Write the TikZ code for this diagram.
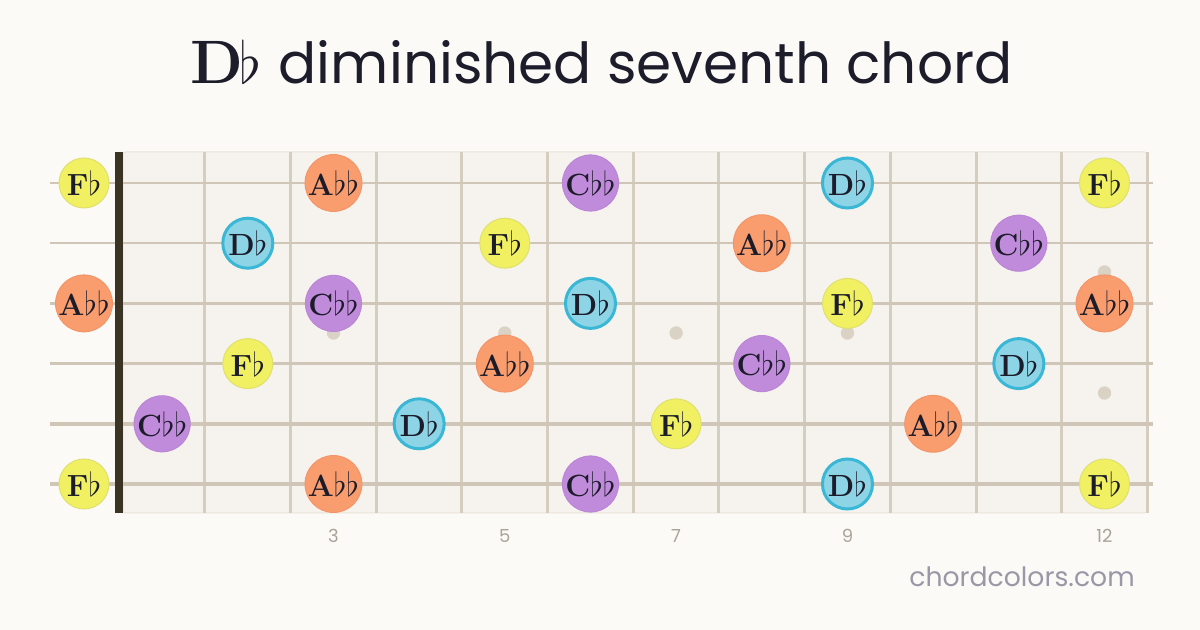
\documentclass[tikz,border=0pt]{standalone}
\usepackage{fontspec}
\newfontfamily\sansf{Poppins}
\definecolor{bg}{HTML}{FBFAF6}
\definecolor{board}{HTML}{F6F3EE}
\definecolor{boardedge}{HTML}{E9E3D9}
\definecolor{fretc}{HTML}{D5CDC0}
\definecolor{stringc}{HTML}{CFC6B8}
\definecolor{nutc}{HTML}{3B3425}
\definecolor{inlayc}{HTML}{D9D2C5}
\definecolor{yelf}{HTML}{F0F062}
\definecolor{yeld}{HTML}{E0E070}
\definecolor{oraf}{HTML}{F99D6E}
\definecolor{orad}{HTML}{F2966A}
\definecolor{purf}{HTML}{C18BDB}
\definecolor{purd}{HTML}{BB86D6}
\definecolor{bluf}{HTML}{8DD5E6}
\definecolor{blud}{HTML}{3BB7D6}
\definecolor{inkc}{HTML}{1C1C2A}
\definecolor{numc}{HTML}{A9A398}
\definecolor{sitec}{HTML}{9A98A6}
\newcommand\nfl{$\flat$}
\newcommand\tfl{\hspace{-3pt}\scalebox{1.75}{\fontsize{24.88}{26}\selectfont$\flat$}}
\newcommand\labF{F\nfl}
\newcommand\labA{A\nfl\nfl}
\newcommand\labC{C\nfl\nfl}
\newcommand\labD{D\nfl}
\tikzset{
  nt/.style={circle, minimum size=37.5pt, inner sep=0pt, text=inkc,
    font=\fontsize{23}{25}\selectfont\bfseries},
  ntF/.style={nt, fill=yelf, draw=yeld, line width=0.75pt},
  ntA/.style={nt, fill=oraf, draw=orad, line width=0.75pt},
  ntC/.style={nt, fill=purf, draw=purd, line width=0.75pt},
  ntD/.style={nt, fill=bluf, draw=blud, line width=2.25pt},
  fretline/.style={draw=fretc, line width=2.25pt},
  inlay/.style={circle, fill=inlayc, minimum size=10pt, inner sep=0pt},
  fretnum/.style={text=numc, font=\sansf\fontsize{13.5}{15}\selectfont},
}
\begin{document}
\begin{tikzpicture}[x=0.75pt,y=-0.75pt]
\useasboundingbox[fill=bg] (0,0) rectangle (1200,630);
% title
\node[anchor=base, text=inkc, inner sep=0pt] (title) at (601.5,84)
  {{\fontsize{46}{50}\selectfont\bfseries D\tfl}\hspace{13pt}{\sansf\fontsize{42.4}{48}\selectfont diminished seventh chord}};
% board
\fill[board, draw=boardedge, line width=0.75pt, rounded corners=2pt] (123,152) rectangle (1147,513);
% frets
\foreach \k in {1,...,12}{
  \pgfmathsetmacro\fx{119.3+85.67*\k}
  \draw[fretline] (\fx,152) -- (\fx,513);
}
% inlays
\foreach \f/\yy [count=\i] in {3/333,5/333,7/333,9/333,12/272,12/393}{
  \pgfmathsetmacro\ix{119.3+85.67*(\f-0.5)}
  \node[inlay] (inlay\i) at (\ix,\yy) {};
}
% strings
\foreach \s/\w in {1/2.0,2/2.4,3/2.8,4/3.2,5/3.6,6/4.0}{
  \pgfmathsetmacro\sy{183+60.2*(\s-1)}
  \draw[stringc, line width=\w*0.75pt] (50,\sy) -- (1153,\sy);
}
% nut
\fill[nutc] (115,152) rectangle (123,513);
% notes
\foreach \s/\f/\t in {
  1/0/F,1/3/A,1/6/C,1/9/D,1/12/F,
  2/2/D,2/5/F,2/8/A,2/11/C,
  3/0/A,3/3/C,3/6/D,3/9/F,3/12/A,
  4/2/F,4/5/A,4/8/C,4/11/D,
  5/1/C,5/4/D,5/7/F,5/10/A,
  6/0/F,6/3/A,6/6/C,6/9/D,6/12/F}{
  \pgfmathsetmacro\nx{ifthenelse(\f==0,84,119.3+85.67*(\f-0.5))}
  \pgfmathsetmacro\ny{183+60.2*(\s-1)}
  \node[nt\t] (n\s-\f) at (\nx,\ny) {\csname lab\t\endcsname};
}
% fret numbers
\foreach \f in {3,5,7,9,12}{
  \pgfmathsetmacro\nx{119.3+85.67*(\f-0.5)}
  \node[fretnum, anchor=base] (num\f) at (\nx,543) {\f};
}
% footer
\node[anchor=base east, inner sep=0pt, text=sitec, font=\sansf\fontsize{20}{24}\selectfont] (site) at (1135,587) {chordcolors.com};
\end{tikzpicture}
\end{document}
